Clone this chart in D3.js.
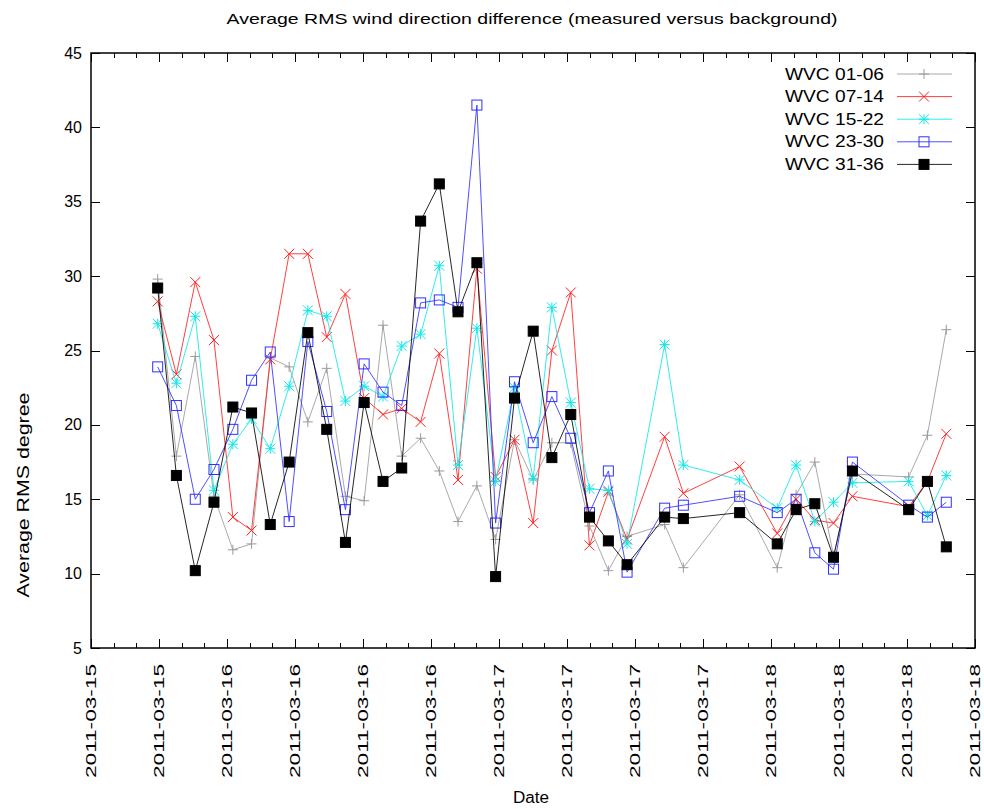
<!DOCTYPE html>
<html>
<head>
<meta charset="utf-8">
<script src="https://cdn.jsdelivr.net/npm/d3@7"></script>
<style>
    body { margin: 0; background: #fff; }
    svg text { font-family: "Liberation Sans", Arial, sans-serif; fill: #000; }
</style>
</head>
<body>
<div id="chart"></div>
<script>
'use strict';

// Pass times (UTC), one per orbit, gaps where no data
const times = [
    '2011-03-15 17:53', '2011-03-15 19:32', '2011-03-15 21:12', '2011-03-15 22:51',
    '2011-03-16 00:31', '2011-03-16 02:10', '2011-03-16 03:49', '2011-03-16 05:29',
    '2011-03-16 07:08', '2011-03-16 08:48', '2011-03-16 10:27', '2011-03-16 12:06',
    '2011-03-16 13:46', '2011-03-16 15:25', '2011-03-16 17:05', '2011-03-16 18:44',
    '2011-03-16 20:23', '2011-03-16 22:03', '2011-03-16 23:42', '2011-03-17 01:22',
    '2011-03-17 03:01', '2011-03-17 04:40', '2011-03-17 06:20', '2011-03-17 07:59',
    '2011-03-17 09:39', '2011-03-17 11:18', '2011-03-17 14:37', '2011-03-17 16:16',
    '2011-03-17 21:14', '2011-03-18 00:33', '2011-03-18 02:13', '2011-03-18 03:52',
    '2011-03-18 05:31', '2011-03-18 07:11', '2011-03-18 12:09', '2011-03-18 13:48',
    '2011-03-18 15:28'
];

const wvc0106 = [29.8, 17.9, 24.6, 15.2, 11.6, 12.0, 24.5, 23.9, 20.2, 23.8,
    15.2, 14.9, 26.7, 17.9, 19.1, 16.9, 13.5, 15.9, 12.3, 19.0,
    16.3, 18.8, 18.8, 13.2, 10.2, 12.5,
    13.3, 10.4, 15.3, 10.4, 15.3, 17.5, 11.2, 16.7, 16.5, 19.3, 26.4];

const wvc0714 = [28.3, 23.4, 29.6, 25.7, 13.8, 12.9, 24.4, 31.5, 31.5, 25.9,
    28.8, 21.8, 20.7, 21.1, 20.2, 24.8, 16.3, 30.5, 16.5, 19.0,
    13.4, 25.0, 28.9, 11.9, 15.5, 12.3,
    19.2, 15.4, 17.2, 12.7, 15.0, 13.6, 13.4, 15.2, 14.5, 16.2, 19.4];

const wvc1522 = [26.8, 22.8, 27.3, 15.6, 18.7, 20.4, 18.4, 22.6, 27.7, 27.3,
    21.6, 22.6, 21.9, 25.3, 26.1, 30.7, 17.3, 26.5, 16.2, 22.5,
    16.4, 27.9, 21.5, 15.7, 15.6, 12.0,
    25.4, 17.3, 16.3, 14.4, 17.3, 13.5, 14.8, 16.1, 16.2, 13.9, 16.6];

const wvc2330 = [23.9, 21.3, 15.0, 17.0, 19.7, 23.0, 24.9, 13.5, 25.6, 20.9,
    14.3, 24.1, 22.2, 21.3, 28.2, 28.4, 27.9, 41.5, 13.4, 22.9,
    18.8, 21.9, 19.1, 14.1, 16.9, 10.1,
    14.4, 14.6, 15.2, 14.1, 15.0, 11.4, 10.3, 17.5, 14.6, 13.8, 14.8];

const wvc3136 = [29.2, 16.6, 10.2, 14.8, 21.2, 20.8, 13.3, 17.5, 26.2, 19.7,
    12.1, 21.5, 16.2, 17.1, 33.7, 36.2, 27.6, 30.9, 9.8, 21.8,
    26.3, 17.8, 20.7, 13.8, 12.2, 10.6,
    13.8, 13.7, 14.1, 12.0, 14.3, 14.7, 11.1, 16.9, 14.3, 16.2, 11.8];

const seriesNames = ['WVC 01-06', 'WVC 07-14', 'WVC 15-22', 'WVC 23-30', 'WVC 31-36'];
const yTicks = [5, 10, 15, 20, 25, 30, 35, 40, 45];
const xStart = '2011-03-15 12:00';
const xEnd = '2011-03-18 18:00';

/*
Lines
 */
class Lines {

    svgW = 984;
    svgH = 809;
    plot = {left: 91, right: 975, top: 53, bottom: 648};

    // one style per series, same order as seriesNames
    styles = [
        {color: '#9a9a9a', mark: 'plus'},
        {color: '#ff2020', mark: 'cross'},
        {color: '#10e8e8', mark: 'star'},
        {color: '#3030ff', mark: 'box'},
        {color: '#000000', mark: 'fbox'}
    ];

    parse = d3.utcParse('%Y-%m-%d %H:%M');

    constructor(_target) {
        this.target = _target;
        this.init();
    }

    init() {
        const vis = this;
        vis.svg = d3.select(`#${vis.target}`)
            .append('svg')
            .attr('width', vis.svgW)
            .attr('height', vis.svgH);

        vis.x = d3.scaleUtc()
            .domain([vis.parse(xStart), vis.parse(xEnd)])
            .range([vis.plot.left, vis.plot.right]);
        vis.y = d3.scaleLinear()
            .domain([5, 45])
            .range([vis.plot.bottom, vis.plot.top]);

        vis.wrangle();
    }

    wrangle() {
        const vis = this;
        const dates = times.map(t => vis.parse(t));
        const all = [wvc0106, wvc0714, wvc1522, wvc2330, wvc3136];
        vis.displayData = all.map((vals, k) => ({
            name: seriesNames[k],
            style: vis.styles[k],
            points: vals.map((v, i) => ({t: dates[i], v: v}))
        }));
        vis.render();
    }

    // draw a point marker into group g at (cx, cy)
    marker(g, type, color, cx, cy) {
        const s = 5;
        if (type === 'plus' || type === 'star') {
            g.append('path')
                .attr('d', `M${cx - s},${cy}H${cx + s}M${cx},${cy - s}V${cy + s}`)
                .attr('stroke', color).attr('fill', 'none');
        }
        if (type === 'cross' || type === 'star') {
            g.append('path')
                .attr('d', `M${cx - s},${cy - s}L${cx + s},${cy + s}M${cx - s},${cy + s}L${cx + s},${cy - s}`)
                .attr('stroke', color).attr('fill', 'none');
        }
        if (type === 'box' || type === 'fbox') {
            g.append('rect')
                .attr('x', cx - s).attr('y', cy - s)
                .attr('width', 2 * s).attr('height', 2 * s)
                .attr('stroke', color)
                .attr('fill', type === 'fbox' ? color : 'none');
        }
    }

    render() {
        const vis = this;
        const p = vis.plot;

        // Ticks, gnuplot style: inside, mirrored
        const axisG = vis.svg.append('g').attr('stroke', '#000').attr('stroke-width', 1);
        const major = d3.utcHour.every(6).range(vis.x.domain()[0], d3.utcMinute.offset(vis.x.domain()[1], 1));
        const minor = d3.utcHour.every(2).range(vis.x.domain()[0], vis.x.domain()[1]);

        minor.forEach(d => {
            const xx = Math.round(vis.x(d)) + 0.5;
            axisG.append('line').attr('x1', xx).attr('x2', xx).attr('y1', p.bottom).attr('y2', p.bottom - 5);
            axisG.append('line').attr('x1', xx).attr('x2', xx).attr('y1', p.top).attr('y2', p.top + 5);
        });
        major.forEach(d => {
            const xx = Math.round(vis.x(d)) + 0.5;
            axisG.append('line').attr('x1', xx).attr('x2', xx).attr('y1', p.bottom).attr('y2', p.bottom - 9);
            axisG.append('line').attr('x1', xx).attr('x2', xx).attr('y1', p.top).attr('y2', p.top + 9);
        });
        yTicks.forEach(d => {
            const yy = Math.round(vis.y(d)) + 0.5;
            axisG.append('line').attr('x1', p.left).attr('x2', p.left + 9).attr('y1', yy).attr('y2', yy);
            axisG.append('line').attr('x1', p.right).attr('x2', p.right - 9).attr('y1', yy).attr('y2', yy);
        });

        // Tick labels
        const fmt = d3.utcFormat('%Y-%m-%d');
        vis.svg.append('g')
            .selectAll('text')
            .data(major)
            .join('text')
            .attr('transform', d => `translate(${vis.x(d) + 5},664) rotate(-90)`)
            .attr('text-anchor', 'end')
            .attr('font-size', 15)
            .attr('textLength', 114)
            .attr('lengthAdjust', 'spacingAndGlyphs')
            .text(d => fmt(d));

        vis.svg.append('g')
            .selectAll('text')
            .data(yTicks)
            .join('text')
            .attr('x', 82)
            .attr('y', d => vis.y(d) + 5.5)
            .attr('text-anchor', 'end')
            .attr('font-size', 16)
            .text(d => d);

        // Frame
        vis.svg.append('rect')
            .attr('x', p.left).attr('y', p.top)
            .attr('width', p.right - p.left).attr('height', p.bottom - p.top)
            .attr('fill', 'none').attr('stroke', '#000').attr('stroke-width', 1.5);

        // Titles
        vis.svg.append('text')
            .attr('x', 532).attr('y', 24)
            .attr('text-anchor', 'middle')
            .attr('font-size', 15)
            .attr('textLength', 611)
            .attr('lengthAdjust', 'spacingAndGlyphs')
            .text('Average RMS wind direction difference (measured versus background)');
        vis.svg.append('text')
            .attr('x', 531).attr('y', 803)
            .attr('text-anchor', 'middle')
            .attr('font-size', 16)
            .attr('textLength', 36)
            .attr('lengthAdjust', 'spacingAndGlyphs')
            .text('Date');
        vis.svg.append('text')
            .attr('transform', 'translate(29,495) rotate(-90)')
            .attr('text-anchor', 'middle')
            .attr('font-size', 16)
            .attr('textLength', 205)
            .attr('lengthAdjust', 'spacingAndGlyphs')
            .text('Average RMS degree');

        // Series
        const line = d3.line().x(d => vis.x(d.t)).y(d => vis.y(d.v));
        const plotG = vis.svg.append('g');
        vis.displayData.forEach(s => {
            const g = plotG.append('g').attr('class', 'series');
            g.append('path')
                .attr('d', line(s.points))
                .attr('fill', 'none')
                .attr('stroke', s.style.color)
                .attr('stroke-width', 1)
                .attr('stroke-opacity', 0.85);
            s.points.forEach(d => vis.marker(g, s.style.mark, s.style.color, vis.x(d.t), vis.y(d.v)));
        });

        // Legend
        const legendG = vis.svg.append('g');
        vis.displayData.forEach((s, i) => {
            const ly = 74 + i * 22.6;
            legendG.append('text')
                .attr('x', 884).attr('y', ly + 5.5)
                .attr('text-anchor', 'end')
                .attr('font-size', 16)
                .attr('textLength', 99)
                .attr('lengthAdjust', 'spacingAndGlyphs')
                .text(s.name);
            legendG.append('line')
                .attr('x1', 897).attr('x2', 952).attr('y1', ly).attr('y2', ly)
                .attr('stroke', s.style.color).attr('stroke-opacity', 0.85);
            vis.marker(legendG, s.style.mark, s.style.color, 924, ly);
        });
    }
}

new Lines('chart');
</script>
</body>
</html>
